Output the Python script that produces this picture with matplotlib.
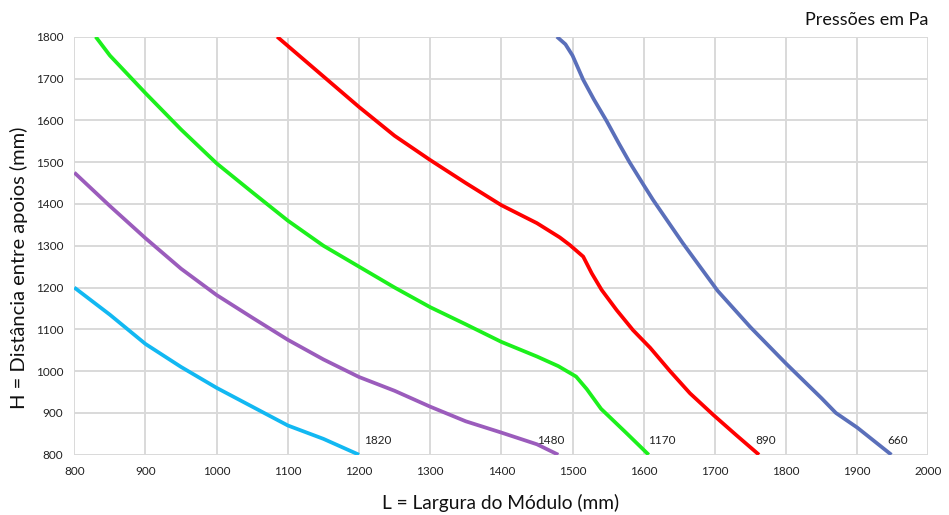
import matplotlib
matplotlib.use("Agg")
import matplotlib.pyplot as plt

plt.rcParams['font.family'] = ['Lato', 'DejaVu Sans']

# Pressure curves (Pa): L (mm) vs H (mm)
p1820_L = [800, 850, 900, 950, 1000, 1050, 1100, 1150, 1200]
p1820_H = [1200, 1135, 1065, 1010, 960, 915, 870, 838, 800]

p1480_L = [800, 850, 900, 950, 1000, 1050, 1100, 1150, 1200, 1250, 1300, 1350, 1400, 1450, 1480]
p1480_H = [1475, 1395, 1318, 1245, 1182, 1128, 1075, 1028, 986, 953, 915, 880, 853, 825, 800]

p1170_L = [830, 850, 900, 950, 1000, 1050, 1100, 1150, 1200, 1250, 1300, 1350, 1400, 1450, 1480, 1505, 1520, 1540, 1575, 1607]
p1170_H = [1800, 1755, 1665, 1578, 1497, 1428, 1360, 1300, 1250, 1200, 1153, 1112, 1070, 1035, 1012, 987, 957, 910, 853, 800]

p890_L = [1085, 1100, 1150, 1200, 1250, 1300, 1350, 1400, 1450, 1482, 1496, 1515, 1527, 1541, 1562, 1585, 1609, 1637, 1665, 1698, 1730, 1762]
p890_H = [1800, 1778, 1705, 1632, 1563, 1505, 1450, 1397, 1354, 1320, 1302, 1274, 1234, 1194, 1146, 1098, 1056, 1000, 947, 895, 847, 800]

p660_L = [1478, 1490, 1500, 1515, 1530, 1548, 1565, 1580, 1600, 1613, 1638, 1655, 1670, 1704, 1750, 1800, 1850, 1870, 1900, 1948]
p660_H = [1800, 1782, 1755, 1697, 1650, 1598, 1545, 1500, 1445, 1410, 1348, 1306, 1271, 1192, 1105, 1018, 935, 900, 865, 800]

series_labels = ["1820", "1480", "1170", "890", "660"]

x_ticks = [800, 900, 1000, 1100, 1200, 1300, 1400, 1500, 1600, 1700, 1800, 1900, 2000]
y_ticks = [800, 900, 1000, 1100, 1200, 1300, 1400, 1500, 1600, 1700, 1800]

x_title = "L = Largura do Módulo (mm)"
y_title = "H = Distância entre apoios (mm)"
note = "Pressões em Pa"

colors = ["#12b8f2", "#9b5cbc", "#1cf01c", "#ff0000", "#5a6fba"]
label_offsets = [5, -21, -1, -4, -4]

fig = plt.figure(figsize=(9.49, 5.15), dpi=100)
ax = fig.add_axes([0.0783, 0.117, 0.9, 0.8117])

series = [(p1820_L, p1820_H), (p1480_L, p1480_H), (p1170_L, p1170_H),
          (p890_L, p890_H), (p660_L, p660_H)]
for (xs, ys), c, lab, off in zip(series, colors, series_labels, label_offsets):
    ax.plot(xs, ys, color=c, lw=2.7, solid_capstyle='butt',
            solid_joinstyle='round', zorder=3)
    ax.annotate(lab, xy=(xs[-1], ys[-1]), xytext=(off, 9),
                textcoords='offset pixels', ha='left', va='bottom',
                fontsize=8.5, color='#222222')

ax.set_xlim(800, 2000)
ax.set_ylim(800, 1800)
ax.set_xticks(x_ticks)
ax.set_yticks(y_ticks)
ax.tick_params(length=0, labelsize=8.5, colors='#222222', pad=8)
ax.grid(True, color='#d9d9d9', lw=1.4)
ax.set_axisbelow(True)
for s in ax.spines.values():
    s.set_visible(False)

fig.text(0.020, 0.48, y_title, rotation=90, ha='center', va='center',
         fontsize=14.5, color='#111111')
fig.text(0.527, 0.024, x_title, ha='center', va='center',
         fontsize=13.8, color='#111111')
fig.text(0.978, 0.962, note, ha='right', va='center', fontsize=13, color='#111111')

fig.savefig("out.png", dpi=100, facecolor='white')
